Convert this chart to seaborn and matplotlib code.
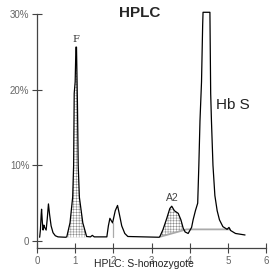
import numpy as np
import pandas as pd
import matplotlib
matplotlib.use('Agg')
import matplotlib.pyplot as plt
import seaborn as sns

# 色谱曲线 (保留时间 min, 峰高 %)
rt = [0.07, 0.09, 0.11, 0.12, 0.14, 0.16, 0.18, 0.20, 0.24, 0.27, 0.30, 0.33, 0.37, 0.42, 0.48, 0.55, 0.75,
      0.78, 0.865, 0.935, 0.96, 0.975, 1.0, 1.02, 1.035, 1.06, 1.08, 1.11, 1.2, 1.30, 1.40, 1.45, 1.50, 1.83,
      1.87, 1.91, 1.98, 2.05, 2.11, 2.16, 2.22, 2.30, 2.38, 3.20,
      3.22, 3.30, 3.40, 3.48, 3.53, 3.60, 3.70, 3.77, 3.83, 3.88, 3.96, 4.05, 4.09, 4.15, 4.21, 4.24, 4.27,
      4.31, 4.34, 4.35, 4.53, 4.55, 4.57, 4.61, 4.66, 4.72, 4.78, 4.87, 4.98, 5.03, 5.07, 5.20, 5.45]
height = [0.5, 1.5, 3.5, 4.2, 2.5, 1.45, 2.1, 1.8, 1.45, 3.0, 4.9, 3.5, 2.0, 1.1, 0.7, 0.55, 0.5,
          0.55, 2.4, 5.8, 10.0, 19.5, 21.0, 25.6, 25.6, 18.0, 10.0, 5.8, 2.4, 0.6, 0.55, 0.75, 0.55, 0.55,
          2.0, 3.0, 2.4, 4.0, 4.7, 3.5, 2.0, 1.0, 0.6, 0.5,
          0.6, 1.5, 3.0, 4.3, 4.6, 4.0, 3.65, 2.8, 1.7, 1.2, 1.0, 1.8, 2.8, 4.0, 5.0, 10.0, 15.9,
          21.0, 28.5, 30.2, 30.2, 19.5, 15.9, 10.0, 6.0, 4.0, 2.8, 1.9, 1.55, 1.8, 1.4, 1.0, 0.8]

# 积分基线
base_x = [3.22, 3.92, 5.06]
base_y = [0.56, 1.54, 1.54]

x_ticks = [0, 1, 2, 3, 4, 5, 6]
y_ticks = [0, 10, 20, 30]
y_labels = ['0', '10%', '20%', '30%']

df = pd.DataFrame({'rt': rt, 'h': height})

sns.set_style('ticks')
plt.rcParams['font.family'] = ['Liberation Sans', 'DejaVu Sans']
plt.rcParams['hatch.linewidth'] = 0.35

fig = plt.figure(figsize=(2.8, 2.72), dpi=100)
ax = fig.add_axes([0.1321, 0.0882, 0.818, 0.875])

# 阴影填充 F 峰和 A2 峰
x = df['rt'].values
y = df['h'].values
f_mask = (x >= 0.78) & (x <= 1.30)
ax.fill_between(x[f_mask], 0.5, y[f_mask], facecolor='none', edgecolor='#888888',
                hatch='++++++', linewidth=0)
a_mask = (x >= 3.22) & (x <= 3.86)
a_base = np.interp(x[a_mask], base_x, base_y)
ax.fill_between(x[a_mask], a_base, y[a_mask], facecolor='none', edgecolor='#888888',
                hatch='++++++', linewidth=0)

ax.plot(base_x, base_y, color='#aaaaaa', lw=1.3)
ax.plot([1.98, 1.98], [0.5, 2.4], color='#aaaaaa', lw=0.9)

sns.lineplot(data=df, x='rt', y='h', sort=False, estimator=None, color='black',
             lw=0.9, ax=ax, clip_on=False)

ax.set_xlim(0, 6)
ax.set_ylim(-0.92, 30.5)
ax.set_xticks(x_ticks)
ax.set_yticks(y_ticks)
ax.set_yticklabels(y_labels)
ax.set_xlabel('')
ax.set_ylabel('')
ax.spines['right'].set_visible(False)
ax.spines['top'].set_visible(False)
ax.spines['left'].set_bounds(-0.92, 30)
for s in ['left', 'bottom']:
    ax.spines[s].set_color('#444444')
    ax.spines[s].set_linewidth(0.9)
ax.tick_params(direction='inout', length=7, width=0.8, color='#444444',
               labelsize=7, labelcolor='#666666', pad=2)

ax.text(1.03, 26.6, 'F', ha='center', va='center', fontsize=7, family='DejaVu Serif', color='#333333')
ax.text(3.55, 5.7, 'A2', ha='center', va='center', fontsize=7.5, color='#444444')
ax.text(5.13, 18.0, 'Hb S', ha='center', va='center', fontsize=11, color='#222222')

fig.text(0.5, 0.952, 'HPLC', ha='center', va='center', fontsize=11, fontweight='bold')
fig.text(0.515, 0.03, 'HPLC: S-homozygote', ha='center', va='center', fontsize=7.5, color='#222222')

fig.savefig('out.png', dpi=100)
